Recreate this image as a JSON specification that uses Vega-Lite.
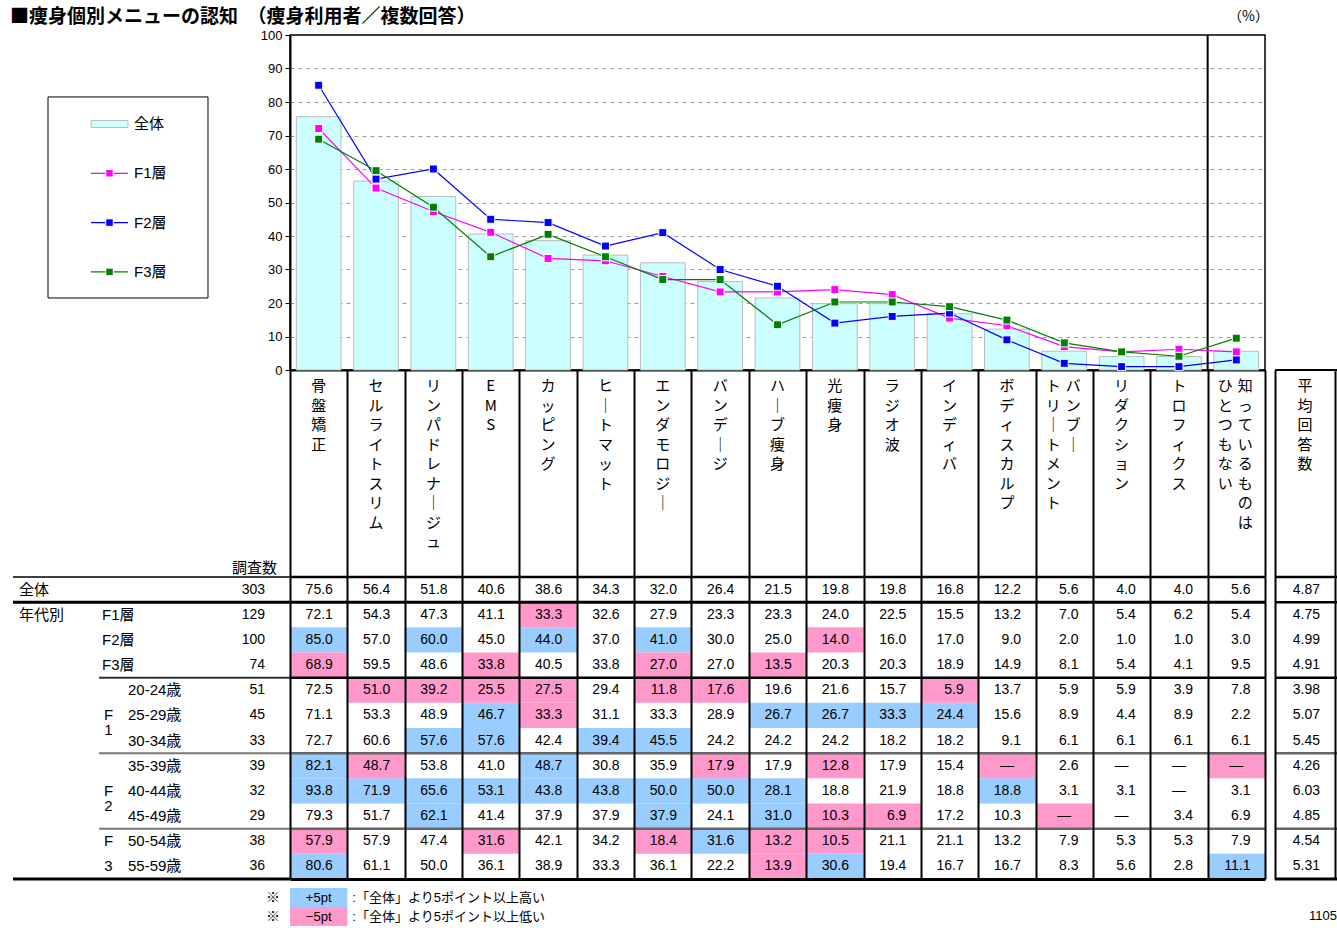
{
"$schema":"https://vega.github.io/schema/vega-lite/v6.json",
"background":"#ffffff",
"padding":{"left":0,"top":8,"right":0,"bottom":0},
"columns":3,
"spacing":0,
"bounds":"flush",
"align":"each",
"resolve":{"scale":{"color":"independent"},"legend":{"color":"independent"}},
"config":{
 "view":{"stroke":null},
 "font":"Liberation Sans, Noto Sans CJK JP",
 "text":{"font":"Liberation Sans, Noto Sans CJK JP","fontSize":14,"color":"#000000"},
 "axis":{"labelFont":"Liberation Sans","labelColor":"#000000"},
 "title":{"color":"#000000"}
},
"datasets":{
 "legend":[{"s":"全体"},{"s":"F1層"},{"s":"F2層"},{"s":"F3層"}],
 "header":[
  {"r":"見出し","c":"骨盤矯正","s":"C","t":"骨\n盤\n矯\n正"},
  {"r":"見出し","c":"セルライトスリム","s":"C","t":"セ\nル\nラ\nイ\nト\nス\nリ\nム"},
  {"r":"見出し","c":"リンパドレナージュ","s":"C","t":"リ\nン\nパ\nド\nレ\nナ\n｜\nジ\nュ"},
  {"r":"見出し","c":"EMS","s":"C","t":"E\nM\nS"},
  {"r":"見出し","c":"カッピング","s":"C","t":"カ\nッ\nピ\nン\nグ"},
  {"r":"見出し","c":"ヒートマット","s":"C","t":"ヒ\n｜\nト\nマ\nッ\nト"},
  {"r":"見出し","c":"エンダモロジー","s":"C","t":"エ\nン\nダ\nモ\nロ\nジ\n｜"},
  {"r":"見出し","c":"バンデージ","s":"C","t":"バ\nン\nデ\n｜\nジ"},
  {"r":"見出し","c":"ハーブ痩身","s":"C","t":"ハ\n｜\nブ\n痩\n身"},
  {"r":"見出し","c":"光痩身","s":"C","t":"光\n痩\n身"},
  {"r":"見出し","c":"ラジオ波","s":"C","t":"ラ\nジ\nオ\n波"},
  {"r":"見出し","c":"インディバ","s":"C","t":"イ\nン\nデ\nィ\nバ"},
  {"r":"見出し","c":"ボディスカルプ","s":"C","t":"ボ\nデ\nィ\nス\nカ\nル\nプ"},
  {"r":"見出し","c":"バンブートリートメント","s":"R","t":"バ\nン\nブ\n｜"},
  {"r":"見出し","c":"バンブートリートメント","s":"L","t":"ト\nリ\n｜\nト\nメ\nン\nト"},
  {"r":"見出し","c":"リダクション","s":"C","t":"リ\nダ\nク\nシ\nョ\nン"},
  {"r":"見出し","c":"トロフィクス","s":"C","t":"ト\nロ\nフ\nィ\nク\nス"},
  {"r":"見出し","c":"知っているものはひとつもない","s":"R","t":"知\nっ\nて\nい\nる\nも\nの\nは"},
  {"r":"見出し","c":"知っているものはひとつもない","s":"L","t":"ひ\nと\nつ\nも\nな\nい"},
  {"r":"見出し","c":"平均回答数","s":"C","t":"平\n均\n回\n答\n数"}
 ],
 "rows":[
  {"r":"全体","n":303,"a":"全体"},
  {"r":"F1層","n":129,"a":"年代別","b":"F1層"},
  {"r":"F2層","n":100,"b":"F2層"},
  {"r":"F3層","n":74,"b":"F3層"},
  {"r":"20-24歳","n":51,"age":"20-24歳"},
  {"r":"25-29歳","n":45,"age":"25-29歳","grp":"F\n1"},
  {"r":"30-34歳","n":33,"age":"30-34歳"},
  {"r":"35-39歳","n":39,"age":"35-39歳"},
  {"r":"40-44歳","n":32,"age":"40-44歳","grp":"F\n2"},
  {"r":"45-49歳","n":29,"age":"45-49歳"},
  {"r":"50-54歳","n":38,"age":"50-54歳","grp":"F"},
  {"r":"55-59歳","n":36,"age":"55-59歳","grp":"3"}
 ],
 "seps":[
  {"r":"全体","k":"a"},
  {"r":"F1層","k":"b"},
  {"r":"20-24歳","k":"c"},
  {"r":"35-39歳","k":"d"},
  {"r":"50-54歳","k":"d"}
 ],
 "notes":[
  {"n":"+5pt","h":"+","d":":「全体」より5ポイント以上高い"},
  {"n":"−5pt","h":"-","d":":「全体」より5ポイント以上低い"}
 ],
 "cells":[
  {"r":"全体","c":"骨盤矯正","v":75.6},
  {"r":"全体","c":"セルライトスリム","v":56.4},
  {"r":"全体","c":"リンパドレナージュ","v":51.8},
  {"r":"全体","c":"EMS","v":40.6},
  {"r":"全体","c":"カッピング","v":38.6},
  {"r":"全体","c":"ヒートマット","v":34.3},
  {"r":"全体","c":"エンダモロジー","v":32.0},
  {"r":"全体","c":"バンデージ","v":26.4},
  {"r":"全体","c":"ハーブ痩身","v":21.5},
  {"r":"全体","c":"光痩身","v":19.8},
  {"r":"全体","c":"ラジオ波","v":19.8},
  {"r":"全体","c":"インディバ","v":16.8},
  {"r":"全体","c":"ボディスカルプ","v":12.2},
  {"r":"全体","c":"バンブートリートメント","v":5.6},
  {"r":"全体","c":"リダクション","v":4.0},
  {"r":"全体","c":"トロフィクス","v":4.0},
  {"r":"全体","c":"知っているものはひとつもない","v":5.6},
  {"r":"全体","c":"平均回答数","v":4.87},
  {"r":"F1層","c":"骨盤矯正","v":72.1},
  {"r":"F1層","c":"セルライトスリム","v":54.3},
  {"r":"F1層","c":"リンパドレナージュ","v":47.3},
  {"r":"F1層","c":"EMS","v":41.1},
  {"r":"F1層","c":"カッピング","v":33.3,"h":"-"},
  {"r":"F1層","c":"ヒートマット","v":32.6},
  {"r":"F1層","c":"エンダモロジー","v":27.9},
  {"r":"F1層","c":"バンデージ","v":23.3},
  {"r":"F1層","c":"ハーブ痩身","v":23.3},
  {"r":"F1層","c":"光痩身","v":24.0},
  {"r":"F1層","c":"ラジオ波","v":22.5},
  {"r":"F1層","c":"インディバ","v":15.5},
  {"r":"F1層","c":"ボディスカルプ","v":13.2},
  {"r":"F1層","c":"バンブートリートメント","v":7.0},
  {"r":"F1層","c":"リダクション","v":5.4},
  {"r":"F1層","c":"トロフィクス","v":6.2},
  {"r":"F1層","c":"知っているものはひとつもない","v":5.4},
  {"r":"F1層","c":"平均回答数","v":4.75},
  {"r":"F2層","c":"骨盤矯正","v":85.0,"h":"+"},
  {"r":"F2層","c":"セルライトスリム","v":57.0},
  {"r":"F2層","c":"リンパドレナージュ","v":60.0,"h":"+"},
  {"r":"F2層","c":"EMS","v":45.0},
  {"r":"F2層","c":"カッピング","v":44.0,"h":"+"},
  {"r":"F2層","c":"ヒートマット","v":37.0},
  {"r":"F2層","c":"エンダモロジー","v":41.0,"h":"+"},
  {"r":"F2層","c":"バンデージ","v":30.0},
  {"r":"F2層","c":"ハーブ痩身","v":25.0},
  {"r":"F2層","c":"光痩身","v":14.0,"h":"-"},
  {"r":"F2層","c":"ラジオ波","v":16.0},
  {"r":"F2層","c":"インディバ","v":17.0},
  {"r":"F2層","c":"ボディスカルプ","v":9.0},
  {"r":"F2層","c":"バンブートリートメント","v":2.0},
  {"r":"F2層","c":"リダクション","v":1.0},
  {"r":"F2層","c":"トロフィクス","v":1.0},
  {"r":"F2層","c":"知っているものはひとつもない","v":3.0},
  {"r":"F2層","c":"平均回答数","v":4.99},
  {"r":"F3層","c":"骨盤矯正","v":68.9,"h":"-"},
  {"r":"F3層","c":"セルライトスリム","v":59.5},
  {"r":"F3層","c":"リンパドレナージュ","v":48.6},
  {"r":"F3層","c":"EMS","v":33.8,"h":"-"},
  {"r":"F3層","c":"カッピング","v":40.5},
  {"r":"F3層","c":"ヒートマット","v":33.8},
  {"r":"F3層","c":"エンダモロジー","v":27.0,"h":"-"},
  {"r":"F3層","c":"バンデージ","v":27.0},
  {"r":"F3層","c":"ハーブ痩身","v":13.5,"h":"-"},
  {"r":"F3層","c":"光痩身","v":20.3},
  {"r":"F3層","c":"ラジオ波","v":20.3},
  {"r":"F3層","c":"インディバ","v":18.9},
  {"r":"F3層","c":"ボディスカルプ","v":14.9},
  {"r":"F3層","c":"バンブートリートメント","v":8.1},
  {"r":"F3層","c":"リダクション","v":5.4},
  {"r":"F3層","c":"トロフィクス","v":4.1},
  {"r":"F3層","c":"知っているものはひとつもない","v":9.5},
  {"r":"F3層","c":"平均回答数","v":4.91},
  {"r":"20-24歳","c":"骨盤矯正","v":72.5},
  {"r":"20-24歳","c":"セルライトスリム","v":51.0,"h":"-"},
  {"r":"20-24歳","c":"リンパドレナージュ","v":39.2,"h":"-"},
  {"r":"20-24歳","c":"EMS","v":25.5,"h":"-"},
  {"r":"20-24歳","c":"カッピング","v":27.5,"h":"-"},
  {"r":"20-24歳","c":"ヒートマット","v":29.4},
  {"r":"20-24歳","c":"エンダモロジー","v":11.8,"h":"-"},
  {"r":"20-24歳","c":"バンデージ","v":17.6,"h":"-"},
  {"r":"20-24歳","c":"ハーブ痩身","v":19.6},
  {"r":"20-24歳","c":"光痩身","v":21.6},
  {"r":"20-24歳","c":"ラジオ波","v":15.7},
  {"r":"20-24歳","c":"インディバ","v":5.9,"h":"-"},
  {"r":"20-24歳","c":"ボディスカルプ","v":13.7},
  {"r":"20-24歳","c":"バンブートリートメント","v":5.9},
  {"r":"20-24歳","c":"リダクション","v":5.9},
  {"r":"20-24歳","c":"トロフィクス","v":3.9},
  {"r":"20-24歳","c":"知っているものはひとつもない","v":7.8},
  {"r":"20-24歳","c":"平均回答数","v":3.98},
  {"r":"25-29歳","c":"骨盤矯正","v":71.1},
  {"r":"25-29歳","c":"セルライトスリム","v":53.3},
  {"r":"25-29歳","c":"リンパドレナージュ","v":48.9},
  {"r":"25-29歳","c":"EMS","v":46.7,"h":"+"},
  {"r":"25-29歳","c":"カッピング","v":33.3,"h":"-"},
  {"r":"25-29歳","c":"ヒートマット","v":31.1},
  {"r":"25-29歳","c":"エンダモロジー","v":33.3},
  {"r":"25-29歳","c":"バンデージ","v":28.9},
  {"r":"25-29歳","c":"ハーブ痩身","v":26.7,"h":"+"},
  {"r":"25-29歳","c":"光痩身","v":26.7,"h":"+"},
  {"r":"25-29歳","c":"ラジオ波","v":33.3,"h":"+"},
  {"r":"25-29歳","c":"インディバ","v":24.4,"h":"+"},
  {"r":"25-29歳","c":"ボディスカルプ","v":15.6},
  {"r":"25-29歳","c":"バンブートリートメント","v":8.9},
  {"r":"25-29歳","c":"リダクション","v":4.4},
  {"r":"25-29歳","c":"トロフィクス","v":8.9},
  {"r":"25-29歳","c":"知っているものはひとつもない","v":2.2},
  {"r":"25-29歳","c":"平均回答数","v":5.07},
  {"r":"30-34歳","c":"骨盤矯正","v":72.7},
  {"r":"30-34歳","c":"セルライトスリム","v":60.6},
  {"r":"30-34歳","c":"リンパドレナージュ","v":57.6,"h":"+"},
  {"r":"30-34歳","c":"EMS","v":57.6,"h":"+"},
  {"r":"30-34歳","c":"カッピング","v":42.4},
  {"r":"30-34歳","c":"ヒートマット","v":39.4,"h":"+"},
  {"r":"30-34歳","c":"エンダモロジー","v":45.5,"h":"+"},
  {"r":"30-34歳","c":"バンデージ","v":24.2},
  {"r":"30-34歳","c":"ハーブ痩身","v":24.2},
  {"r":"30-34歳","c":"光痩身","v":24.2},
  {"r":"30-34歳","c":"ラジオ波","v":18.2},
  {"r":"30-34歳","c":"インディバ","v":18.2},
  {"r":"30-34歳","c":"ボディスカルプ","v":9.1},
  {"r":"30-34歳","c":"バンブートリートメント","v":6.1},
  {"r":"30-34歳","c":"リダクション","v":6.1},
  {"r":"30-34歳","c":"トロフィクス","v":6.1},
  {"r":"30-34歳","c":"知っているものはひとつもない","v":6.1},
  {"r":"30-34歳","c":"平均回答数","v":5.45},
  {"r":"35-39歳","c":"骨盤矯正","v":82.1,"h":"+"},
  {"r":"35-39歳","c":"セルライトスリム","v":48.7,"h":"-"},
  {"r":"35-39歳","c":"リンパドレナージュ","v":53.8},
  {"r":"35-39歳","c":"EMS","v":41.0},
  {"r":"35-39歳","c":"カッピング","v":48.7,"h":"+"},
  {"r":"35-39歳","c":"ヒートマット","v":30.8},
  {"r":"35-39歳","c":"エンダモロジー","v":35.9},
  {"r":"35-39歳","c":"バンデージ","v":17.9,"h":"-"},
  {"r":"35-39歳","c":"ハーブ痩身","v":17.9},
  {"r":"35-39歳","c":"光痩身","v":12.8,"h":"-"},
  {"r":"35-39歳","c":"ラジオ波","v":17.9},
  {"r":"35-39歳","c":"インディバ","v":15.4},
  {"r":"35-39歳","c":"ボディスカルプ","v":null,"h":"-"},
  {"r":"35-39歳","c":"バンブートリートメント","v":2.6},
  {"r":"35-39歳","c":"リダクション","v":null},
  {"r":"35-39歳","c":"トロフィクス","v":null},
  {"r":"35-39歳","c":"知っているものはひとつもない","v":null,"h":"-"},
  {"r":"35-39歳","c":"平均回答数","v":4.26},
  {"r":"40-44歳","c":"骨盤矯正","v":93.8,"h":"+"},
  {"r":"40-44歳","c":"セルライトスリム","v":71.9,"h":"+"},
  {"r":"40-44歳","c":"リンパドレナージュ","v":65.6,"h":"+"},
  {"r":"40-44歳","c":"EMS","v":53.1,"h":"+"},
  {"r":"40-44歳","c":"カッピング","v":43.8,"h":"+"},
  {"r":"40-44歳","c":"ヒートマット","v":43.8,"h":"+"},
  {"r":"40-44歳","c":"エンダモロジー","v":50.0,"h":"+"},
  {"r":"40-44歳","c":"バンデージ","v":50.0,"h":"+"},
  {"r":"40-44歳","c":"ハーブ痩身","v":28.1,"h":"+"},
  {"r":"40-44歳","c":"光痩身","v":18.8},
  {"r":"40-44歳","c":"ラジオ波","v":21.9},
  {"r":"40-44歳","c":"インディバ","v":18.8},
  {"r":"40-44歳","c":"ボディスカルプ","v":18.8,"h":"+"},
  {"r":"40-44歳","c":"バンブートリートメント","v":3.1},
  {"r":"40-44歳","c":"リダクション","v":3.1},
  {"r":"40-44歳","c":"トロフィクス","v":null},
  {"r":"40-44歳","c":"知っているものはひとつもない","v":3.1},
  {"r":"40-44歳","c":"平均回答数","v":6.03},
  {"r":"45-49歳","c":"骨盤矯正","v":79.3},
  {"r":"45-49歳","c":"セルライトスリム","v":51.7},
  {"r":"45-49歳","c":"リンパドレナージュ","v":62.1,"h":"+"},
  {"r":"45-49歳","c":"EMS","v":41.4},
  {"r":"45-49歳","c":"カッピング","v":37.9},
  {"r":"45-49歳","c":"ヒートマット","v":37.9},
  {"r":"45-49歳","c":"エンダモロジー","v":37.9,"h":"+"},
  {"r":"45-49歳","c":"バンデージ","v":24.1},
  {"r":"45-49歳","c":"ハーブ痩身","v":31.0,"h":"+"},
  {"r":"45-49歳","c":"光痩身","v":10.3,"h":"-"},
  {"r":"45-49歳","c":"ラジオ波","v":6.9,"h":"-"},
  {"r":"45-49歳","c":"インディバ","v":17.2},
  {"r":"45-49歳","c":"ボディスカルプ","v":10.3},
  {"r":"45-49歳","c":"バンブートリートメント","v":null,"h":"-"},
  {"r":"45-49歳","c":"リダクション","v":null},
  {"r":"45-49歳","c":"トロフィクス","v":3.4},
  {"r":"45-49歳","c":"知っているものはひとつもない","v":6.9},
  {"r":"45-49歳","c":"平均回答数","v":4.85},
  {"r":"50-54歳","c":"骨盤矯正","v":57.9,"h":"-"},
  {"r":"50-54歳","c":"セルライトスリム","v":57.9},
  {"r":"50-54歳","c":"リンパドレナージュ","v":47.4},
  {"r":"50-54歳","c":"EMS","v":31.6,"h":"-"},
  {"r":"50-54歳","c":"カッピング","v":42.1},
  {"r":"50-54歳","c":"ヒートマット","v":34.2},
  {"r":"50-54歳","c":"エンダモロジー","v":18.4,"h":"-"},
  {"r":"50-54歳","c":"バンデージ","v":31.6,"h":"+"},
  {"r":"50-54歳","c":"ハーブ痩身","v":13.2,"h":"-"},
  {"r":"50-54歳","c":"光痩身","v":10.5,"h":"-"},
  {"r":"50-54歳","c":"ラジオ波","v":21.1},
  {"r":"50-54歳","c":"インディバ","v":21.1},
  {"r":"50-54歳","c":"ボディスカルプ","v":13.2},
  {"r":"50-54歳","c":"バンブートリートメント","v":7.9},
  {"r":"50-54歳","c":"リダクション","v":5.3},
  {"r":"50-54歳","c":"トロフィクス","v":5.3},
  {"r":"50-54歳","c":"知っているものはひとつもない","v":7.9},
  {"r":"50-54歳","c":"平均回答数","v":4.54},
  {"r":"55-59歳","c":"骨盤矯正","v":80.6,"h":"+"},
  {"r":"55-59歳","c":"セルライトスリム","v":61.1},
  {"r":"55-59歳","c":"リンパドレナージュ","v":50.0},
  {"r":"55-59歳","c":"EMS","v":36.1},
  {"r":"55-59歳","c":"カッピング","v":38.9},
  {"r":"55-59歳","c":"ヒートマット","v":33.3},
  {"r":"55-59歳","c":"エンダモロジー","v":36.1},
  {"r":"55-59歳","c":"バンデージ","v":22.2},
  {"r":"55-59歳","c":"ハーブ痩身","v":13.9,"h":"-"},
  {"r":"55-59歳","c":"光痩身","v":30.6,"h":"+"},
  {"r":"55-59歳","c":"ラジオ波","v":19.4},
  {"r":"55-59歳","c":"インディバ","v":16.7},
  {"r":"55-59歳","c":"ボディスカルプ","v":16.7},
  {"r":"55-59歳","c":"バンブートリートメント","v":8.3},
  {"r":"55-59歳","c":"リダクション","v":5.6},
  {"r":"55-59歳","c":"トロフィクス","v":2.8},
  {"r":"55-59歳","c":"知っているものはひとつもない","v":11.1,"h":"+"},
  {"r":"55-59歳","c":"平均回答数","v":5.31}
 ]
},
"concat":[
 {
  "width":195,"height":263,
  "title":{"text":"■痩身個別メニューの認知　（痩身利用者／複数回答）","anchor":"start","frame":"group","dx":10,"offset":8,"fontSize":19,"fontWeight":"bold","font":"Noto Sans CJK JP","limit":1000},
  "data":{"name":"legend"},
  "layer":[
   {
    "transform":[{"filter":"datum.s === '全体'"}],
    "mark":{"type":"rect","fill":"#FFFFFF","stroke":"#000000","strokeWidth":1},
    "encoding":{
     "x":{"datum":"sym","type":"nominal","bandPosition":-0.755,"scale":{"type":"band","domain":["sym","lab"],"paddingInner":0,"paddingOuter":0.9898,"align":0.8763},"axis":null},
     "x2":{"datum":"lab","bandPosition":1.51},
     "y":{"datum":"全体","type":"nominal","bandPosition":-0.048,"scale":{"type":"band","domain":["全体","F1層","F2層","F3層"],"paddingInner":0,"paddingOuter":0.667,"align":0.978},"axis":null},
     "y2":{"datum":"F3層","bandPosition":1.029}
    }
   },
   {
    "transform":[{"filter":"datum.s === '全体'"}],
    "mark":{"type":"tick","orient":"horizontal","size":37,"thickness":7,"fill":"#CCFFFF","stroke":"#BBBBBB","strokeWidth":1,"opacity":1},
    "encoding":{"x":{"datum":"sym","type":"nominal"},"y":{"field":"s","type":"nominal"}}
   },
   {
    "transform":[{"filter":"datum.s !== '全体'"}],
    "mark":{"type":"tick","orient":"horizontal","size":37,"thickness":1.2,"opacity":1},
    "encoding":{"x":{"datum":"sym","type":"nominal"},"y":{"field":"s","type":"nominal"},
     "color":{"field":"s","type":"nominal","scale":{"domain":["全体","F1層","F2層","F3層"],"range":["#CCFFFF","#FF00FF","#0000FF","#008000"]},"legend":null}}
   },
   {
    "transform":[{"filter":"datum.s !== '全体'"}],
    "mark":{"type":"point","shape":"square","filled":true,"size":56,"stroke":"#FFFFFF","strokeWidth":1,"opacity":1},
    "encoding":{"x":{"datum":"sym","type":"nominal"},"y":{"field":"s","type":"nominal"},"color":{"field":"s","type":"nominal"}}
   },
   {
    "mark":{"type":"text","align":"left","baseline":"middle","fontSize":15},
    "encoding":{"x":{"datum":"lab","type":"nominal","bandPosition":0},"y":{"field":"s","type":"nominal"},"text":{"field":"s"}}
   }
  ]
 },
 {
  "width":975,"height":335,
  "view":{"stroke":"#000000","strokeWidth":1.5},
  "title":{"text":"（%）","anchor":"end","frame":"group","offset":5,"fontSize":14,"fontWeight":"normal","font":"Noto Sans CJK JP","dx":4},
  "data":{"name":"cells"},
  "layer":[
   {
    "transform":[{"filter":"datum.r === '全体' && datum.c !== '平均回答数'"}],
    "mark":{"type":"bar","width":{"band":0.78},"stroke":"#BBBBBB","strokeWidth":1},
    "encoding":{
     "x":{"field":"c","type":"nominal","scale":{"type":"band","domain":["骨盤矯正","セルライトスリム","リンパドレナージュ","EMS","カッピング","ヒートマット","エンダモロジー","バンデージ","ハーブ痩身","光痩身","ラジオ波","インディバ","ボディスカルプ","バンブートリートメント","リダクション","トロフィクス","知っているものはひとつもない"],"paddingInner":0,"paddingOuter":0},
      "axis":{"title":null,"labels":false,"ticks":true,"tickBand":"extent","tickSize":5,"tickColor":"#000000","domainColor":"#000000","domainWidth":2,"grid":false}},
     "y":{"field":"v","type":"quantitative","scale":{"domain":[0,100],"nice":false},
      "axis":{"title":null,"values":[0,10,20,30,40,50,60,70,80,90,100],"tickCount":12,"labelOverlap":false,"labelFontSize":13,"labelColor":"#000000","labelPadding":3,"tickSize":5,"tickColor":"#000000","domainColor":"#000000","domainWidth":2,"grid":true,"gridColor":"#A0A0A0","gridDash":[4,4],"gridWidth":1,"gridOpacity":{"condition":{"test":"datum.value === 0 || datum.value === 100","value":0},"value":1}}},
     "color":{"field":"r","type":"nominal","scale":{"domain":["全体","F1層","F2層","F3層"],"range":["#CCFFFF","#FF00FF","#0000FF","#008000"]},"legend":null}
    }
   },
   {
    "transform":[{"filter":"datum.r === '全体' && datum.c === '知っているものはひとつもない'"}],
    "mark":{"type":"rule","color":"#000000","strokeWidth":2},
    "encoding":{"x":{"field":"c","type":"nominal","bandPosition":0}}
   },
   {
    "transform":[{"filter":"(datum.r === 'F1層' || datum.r === 'F2層' || datum.r === 'F3層') && datum.c !== '平均回答数'"}],
    "mark":{"type":"line","strokeWidth":1.2},
    "encoding":{
     "x":{"field":"c","type":"nominal"},
     "y":{"field":"v","type":"quantitative"},
     "color":{"field":"r","type":"nominal"},
     "order":{"value":null}
    }
   },
   {
    "transform":[{"filter":"(datum.r === 'F1層' || datum.r === 'F2層' || datum.r === 'F3層') && datum.c !== '平均回答数'"}],
    "mark":{"type":"point","shape":"square","filled":true,"size":64,"stroke":"#FFFFFF","strokeWidth":1,"opacity":1},
    "encoding":{
     "x":{"field":"c","type":"nominal"},
     "y":{"field":"v","type":"quantitative"},
     "color":{"field":"r","type":"nominal"}
    }
   }
  ]
 },
 {
  "width":72,"height":335,
  "data":{"values":[]},
  "mark":{"type":"text"},
  "encoding":{"text":{"value":""}}
 },
 {
  "width":290,"height":207,
  "data":{"values":[{"r":"見出し","t":"調査数"}]},
  "mark":{"type":"text","align":"right","baseline":"bottom","dx":6,"dy":-1,"fontSize":15},
  "encoding":{
   "x":{"datum":"C","type":"nominal","bandPosition":1,"scale":{"type":"band","domain":["A","B","C"],"paddingInner":0,"paddingOuter":0.186,"align":0.406},"axis":null},
   "y":{"field":"r","type":"nominal","bandPosition":1,"scale":{"type":"band","paddingInner":0,"paddingOuter":0},"axis":null},
   "text":{"field":"t"}
  }
 },
 {
  "width":975,"height":207,
  "data":{"name":"header"},
  "transform":[{"filter":"datum.c !== '平均回答数'"}],
  "encoding":{
   "x":{"field":"c","type":"nominal","scale":{"type":"band","domain":["骨盤矯正","セルライトスリム","リンパドレナージュ","EMS","カッピング","ヒートマット","エンダモロジー","バンデージ","ハーブ痩身","光痩身","ラジオ波","インディバ","ボディスカルプ","バンブートリートメント","リダクション","トロフィクス","知っているものはひとつもない"],"paddingInner":0,"paddingOuter":0},
    "axis":{"title":null,"labels":false,"ticks":false,"domain":false,"grid":true,"gridColor":"#000000","gridWidth":2,"tickBand":"extent","zindex":1}},
   "y":{"field":"r","type":"nominal","bandPosition":0,"scale":{"type":"band","paddingInner":0,"paddingOuter":0},"axis":null},
   "text":{"field":"t"}
  },
  "layer":[
   {"transform":[{"filter":"datum.s === 'C'"}],"mark":{"type":"text","font":"Noto Sans CJK JP","fontSize":15,"lineBreak":"\n","lineHeight":19.5,"baseline":"top","align":"center","dy":9}},
   {"transform":[{"filter":"datum.s === 'L'"}],"mark":{"type":"text","font":"Noto Sans CJK JP","fontSize":15,"lineBreak":"\n","lineHeight":19.5,"baseline":"top","align":"center","dy":9,"dx":-11}},
   {"transform":[{"filter":"datum.s === 'R'"}],"mark":{"type":"text","font":"Noto Sans CJK JP","fontSize":15,"lineBreak":"\n","lineHeight":19.5,"baseline":"top","align":"center","dy":9,"dx":9}}
  ]
 },
 {
  "width":72,"height":207,
  "data":{"name":"header"},
  "transform":[{"filter":"datum.c === '平均回答数'"}],
  "encoding":{
   "x":{"field":"c","type":"nominal","scale":{"type":"band","domain":["平均回答数"],"paddingInner":0,"paddingOuter":0.1,"align":0.833},
    "axis":{"title":null,"labels":false,"ticks":false,"domain":false,"grid":true,"gridColor":"#000000","gridWidth":2,"tickBand":"extent","zindex":1}},
   "y":{"field":"r","type":"nominal","bandPosition":0,"scale":{"type":"band","paddingInner":0,"paddingOuter":0},"axis":null}
  },
  "layer":[
   {
    "mark":{"type":"text","font":"Noto Sans CJK JP","fontSize":15,"lineBreak":"\n","lineHeight":19.5,"baseline":"top","align":"center","dy":9},
    "encoding":{"text":{"field":"t"}}
   },
   {
    "mark":{"type":"rule","color":"#000000","strokeWidth":2},
    "encoding":{"x":{"field":"c","type":"nominal","bandPosition":0},"x2":{"value":"width"},"y":{"field":"r","type":"nominal","bandPosition":0}}
   }
  ]
 },
 {
  "width":290,"height":302,
  "layer":[
   {
    "data":{"name":"rows"},"transform":[{"filter":"datum.a"}],
    "mark":{"type":"text","align":"left","baseline":"middle","dx":6,"fontSize":15},
    "encoding":{
     "x":{"datum":"A","type":"nominal","bandPosition":0,"scale":{"type":"band","domain":["A","B","C"],"paddingInner":0,"paddingOuter":0.186,"align":0.406},"axis":null},
     "y":{"field":"r","type":"nominal","scale":{"type":"band","domain":["全体","F1層","F2層","F3層","20-24歳","25-29歳","30-34歳","35-39歳","40-44歳","45-49歳","50-54歳","55-59歳"],"paddingInner":0,"paddingOuter":0},"axis":null},
     "text":{"field":"a"}
    }
   },
   {
    "data":{"name":"rows"},"transform":[{"filter":"datum.b"}],
    "mark":{"type":"text","align":"left","baseline":"middle","dx":3,"fontSize":15},
    "encoding":{"x":{"datum":"B","type":"nominal","bandPosition":0},"y":{"field":"r","type":"nominal"},"text":{"field":"b"}}
   },
   {
    "data":{"name":"rows"},"transform":[{"filter":"datum.grp"}],
    "mark":{"type":"text","align":"center","baseline":"middle","dx":9.5,"fontSize":15,"lineBreak":"\n","lineHeight":15},
    "encoding":{"x":{"datum":"B","type":"nominal","bandPosition":0},"y":{"field":"r","type":"nominal"},"text":{"field":"grp"}}
   },
   {
    "data":{"name":"rows"},"transform":[{"filter":"datum.age"}],
    "mark":{"type":"text","align":"left","baseline":"middle","dx":29,"fontSize":15},
    "encoding":{"x":{"datum":"B","type":"nominal","bandPosition":0},"y":{"field":"r","type":"nominal"},"text":{"field":"age"}}
   },
   {
    "data":{"name":"rows"},
    "mark":{"type":"text","align":"right","baseline":"middle","dx":-6,"fontSize":14},
    "encoding":{"x":{"datum":"C","type":"nominal","bandPosition":1},"y":{"field":"r","type":"nominal"},"text":{"field":"n","type":"quantitative"}}
   },
   {
    "data":{"name":"seps"},"transform":[{"filter":"datum.k === 'a'"}],
    "mark":{"type":"rule","color":"#000000","strokeWidth":1.5},
    "encoding":{"x":{"datum":"A","type":"nominal","bandPosition":0},"x2":{"value":"width"},"y":{"field":"r","type":"nominal","bandPosition":0}}
   },
   {
    "data":{"name":"seps"},"transform":[{"filter":"datum.k === 'b'"}],
    "mark":{"type":"rule","color":"#000000","strokeWidth":3},
    "encoding":{"x":{"datum":"A","type":"nominal","bandPosition":0},"x2":{"value":"width"},"y":{"field":"r","type":"nominal","bandPosition":0}}
   },
   {
    "data":{"name":"seps"},"transform":[{"filter":"datum.k === 'c'"}],
    "mark":{"type":"rule","color":"#333333","strokeWidth":2},
    "encoding":{"x":{"datum":"B","type":"nominal","bandPosition":0},"x2":{"value":"width"},"y":{"field":"r","type":"nominal","bandPosition":0}}
   },
   {
    "data":{"name":"seps"},"transform":[{"filter":"datum.k === 'd'"}],
    "mark":{"type":"rule","color":"#777777","strokeWidth":2},
    "encoding":{"x":{"datum":"B","type":"nominal","bandPosition":0},"x2":{"value":"width"},"y":{"field":"r","type":"nominal","bandPosition":0}}
   },
   {
    "data":{"name":"rows"},"transform":[{"filter":"datum.r === '55-59歳'"}],
    "mark":{"type":"rule","color":"#000000","strokeWidth":3},
    "encoding":{"x":{"datum":"A","type":"nominal","bandPosition":0},"x2":{"value":"width"},"y":{"field":"r","type":"nominal","bandPosition":1}}
   }
  ]
 },
 {
  "width":975,"height":302,
  "data":{"name":"cells"},
  "layer":[
   {
    "transform":[{"filter":"datum.h === '+' && datum.c !== '平均回答数'"}],
    "mark":{"type":"rect","color":"#99CCFF"},
    "encoding":{
     "x":{"field":"c","type":"nominal","scale":{"type":"band","domain":["骨盤矯正","セルライトスリム","リンパドレナージュ","EMS","カッピング","ヒートマット","エンダモロジー","バンデージ","ハーブ痩身","光痩身","ラジオ波","インディバ","ボディスカルプ","バンブートリートメント","リダクション","トロフィクス","知っているものはひとつもない"],"paddingInner":0,"paddingOuter":0},
      "axis":{"title":null,"labels":false,"ticks":false,"domain":true,"domainColor":"#000000","domainWidth":3,"grid":true,"gridColor":"#000000","gridWidth":2,"tickBand":"extent","zindex":1}},
     "y":{"field":"r","type":"nominal","scale":{"type":"band","domain":["全体","F1層","F2層","F3層","20-24歳","25-29歳","30-34歳","35-39歳","40-44歳","45-49歳","50-54歳","55-59歳"],"paddingInner":0,"paddingOuter":0},"axis":null}
    }
   },
   {
    "transform":[{"filter":"datum.h === '-' && datum.c !== '平均回答数'"}],
    "mark":{"type":"rect","color":"#FF99CC"},
    "encoding":{"x":{"field":"c","type":"nominal"},"y":{"field":"r","type":"nominal"}}
   },
   {
    "transform":[{"filter":"datum.v !== null && datum.c !== '平均回答数'"}],
    "mark":{"type":"text","align":"right","baseline":"middle","dx":-14.5,"fontSize":14},
    "encoding":{"x":{"field":"c","type":"nominal","bandPosition":1},"y":{"field":"r","type":"nominal"},"text":{"field":"v","type":"quantitative","format":".1f"}}
   },
   {
    "transform":[{"filter":"datum.v === null && datum.c !== '平均回答数'"}],
    "mark":{"type":"text","align":"center","baseline":"middle","fontSize":14},
    "encoding":{"x":{"field":"c","type":"nominal"},"y":{"field":"r","type":"nominal"},"text":{"value":"—"}}
   },
   {
    "data":{"name":"seps"},"transform":[{"filter":"datum.k === 'a' || datum.k === 'c'"}],
    "mark":{"type":"rule","color":"#000000","strokeWidth":2.5},
    "encoding":{"y":{"field":"r","type":"nominal","bandPosition":0}}
   },
   {
    "data":{"name":"seps"},"transform":[{"filter":"datum.k === 'b'"}],
    "mark":{"type":"rule","color":"#000000","strokeWidth":3},
    "encoding":{"y":{"field":"r","type":"nominal","bandPosition":0}}
   },
   {
    "data":{"name":"seps"},"transform":[{"filter":"datum.k === 'd'"}],
    "mark":{"type":"rule","color":"#666666","strokeWidth":2.5},
    "encoding":{"y":{"field":"r","type":"nominal","bandPosition":0}}
   }
  ]
 },
 {
  "width":72,"height":302,
  "layer":[
   {
    "data":{"name":"cells"},"transform":[{"filter":"datum.c === '平均回答数'"}],
    "mark":{"type":"text","align":"right","baseline":"middle","dx":-15,"fontSize":14},
    "encoding":{
     "x":{"field":"c","type":"nominal","bandPosition":1,"scale":{"type":"band","domain":["平均回答数"],"paddingInner":0,"paddingOuter":0.1,"align":0.833},
      "axis":{"title":null,"labels":false,"ticks":false,"domain":false,"grid":true,"gridColor":"#000000","gridWidth":2,"tickBand":"extent","zindex":1}},
     "y":{"field":"r","type":"nominal","scale":{"type":"band","domain":["全体","F1層","F2層","F3層","20-24歳","25-29歳","30-34歳","35-39歳","40-44歳","45-49歳","50-54歳","55-59歳"],"paddingInner":0,"paddingOuter":0},"axis":null},
     "text":{"field":"v","type":"quantitative","format":".2f"}
    }
   },
   {
    "data":{"name":"seps"},"transform":[{"filter":"datum.k !== 'd'"}],
    "mark":{"type":"rule","color":"#000000","strokeWidth":2.5},
    "encoding":{"x":{"datum":"平均回答数","type":"nominal","bandPosition":0},"x2":{"value":"width"},"y":{"field":"r","type":"nominal","bandPosition":0}}
   },
   {
    "data":{"name":"seps"},"transform":[{"filter":"datum.k === 'd'"}],
    "mark":{"type":"rule","color":"#666666","strokeWidth":2.5},
    "encoding":{"x":{"datum":"平均回答数","type":"nominal","bandPosition":0},"x2":{"value":"width"},"y":{"field":"r","type":"nominal","bandPosition":0}}
   },
   {
    "data":{"name":"rows"},"transform":[{"filter":"datum.r === '55-59歳'"}],
    "mark":{"type":"rule","color":"#000000","strokeWidth":3},
    "encoding":{"x":{"datum":"平均回答数","type":"nominal","bandPosition":0},"x2":{"value":"width"},"y":{"field":"r","type":"nominal","bandPosition":1}}
   }
  ]
 },
 {
  "width":290,"height":47,
  "data":{"name":"notes"},
  "mark":{"type":"text","align":"right","baseline":"middle","dx":-10,"fontSize":14},
  "encoding":{
   "x":{"value":"width"},
   "y":{"field":"n","type":"nominal","scale":{"type":"band","domain":["+5pt","−5pt"],"paddingInner":0,"paddingOuter":0.237,"align":1},"axis":null},
   "text":{"value":"※"}
  }
 },
 {
  "width":975,"height":47,
  "data":{"name":"notes"},
  "layer":[
   {
    "transform":[{"filter":"datum.h === '+'"}],
    "mark":{"type":"rect","color":"#99CCFF"},
    "encoding":{
     "x":{"datum":"骨盤矯正","type":"nominal","scale":{"type":"band","domain":["骨盤矯正","セルライトスリム","リンパドレナージュ","EMS","カッピング","ヒートマット","エンダモロジー","バンデージ","ハーブ痩身","光痩身","ラジオ波","インディバ","ボディスカルプ","バンブートリートメント","リダクション","トロフィクス","知っているものはひとつもない"],"paddingInner":0,"paddingOuter":0},"axis":null},
     "y":{"field":"n","type":"nominal","scale":{"type":"band","domain":["+5pt","−5pt"],"paddingInner":0,"paddingOuter":0.237,"align":1},"axis":null}
    }
   },
   {
    "transform":[{"filter":"datum.h === '-'"}],
    "mark":{"type":"rect","color":"#FF99CC"},
    "encoding":{"x":{"datum":"骨盤矯正","type":"nominal"},"y":{"field":"n","type":"nominal"}}
   },
   {
    "mark":{"type":"text","align":"center","baseline":"middle","fontSize":13},
    "encoding":{"x":{"datum":"骨盤矯正","type":"nominal"},"y":{"field":"n","type":"nominal"},"text":{"field":"n"}}
   },
   {
    "mark":{"type":"text","align":"left","baseline":"middle","dx":5,"fontSize":13},
    "encoding":{"x":{"datum":"セルライトスリム","type":"nominal","bandPosition":0},"y":{"field":"n","type":"nominal"},"text":{"field":"d"}}
   }
  ]
 },
 {
  "width":72,"height":47,
  "data":{"values":[{"t":"1105"}]},
  "mark":{"type":"text","align":"right","baseline":"bottom","dy":-3,"fontSize":13},
  "encoding":{"x":{"value":"width"},"y":{"value":"height"},"text":{"field":"t"}}
 }
]
}
